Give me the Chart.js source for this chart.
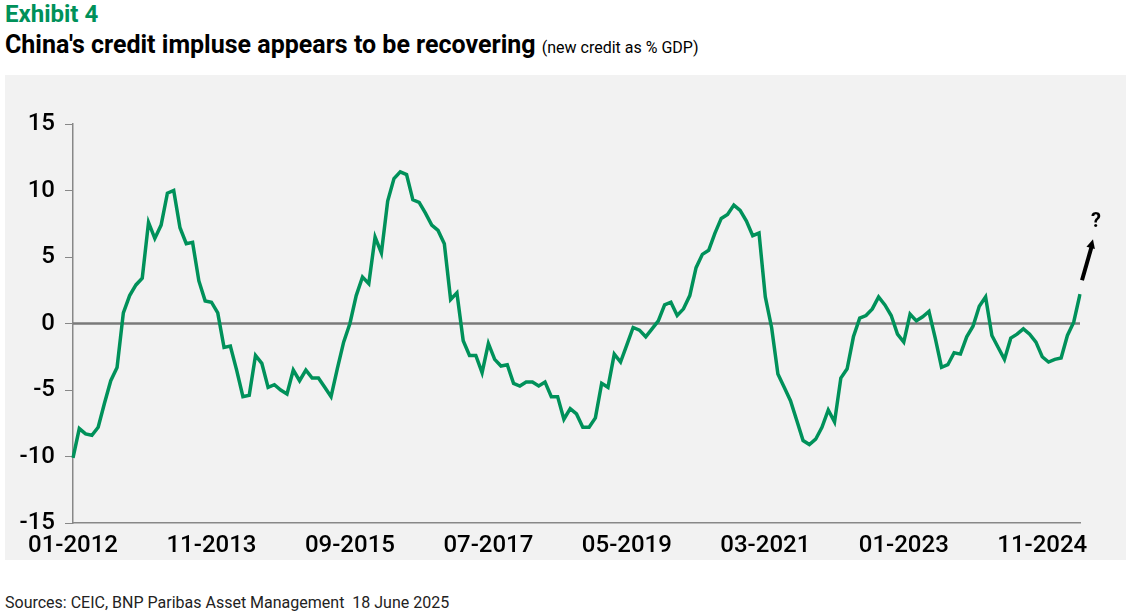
<!DOCTYPE html>
<html>
<head>
<meta charset="utf-8">
<script src="https://cdn.jsdelivr.net/npm/chart.js@4"></script>
<style>
  body { margin: 0; width: 1126px; height: 615px; background: #fff; font-family: Roboto, sans-serif; position: relative; overflow: hidden; }
  #exh { position: absolute; left: 5px; top: 0px; font-size: 24px; font-weight: bold; color: #00915a; }
  #title { position: absolute; left: 5px; top: 30px; font-size: 25px; font-weight: bold; color: #000; }
  #title span { font-size: 16px; font-weight: normal; }
  #box { position: absolute; left: 5px; top: 75px; width: 1121px; height: 485px; background: #f2f2f2; }
  #src { position: absolute; left: 5px; top: 593px; font-size: 16px; color: #222; }
</style>
</head>
<body>
<div id="exh">Exhibit 4</div>
<div id="title">China's credit impluse appears to be recovering <span>(new credit as % GDP)</span></div>
<div id="box"><canvas id="c" width="1121" height="485"></canvas></div>
<div id="src">Sources: CEIC, BNP Paribas Asset Management&nbsp; 18 June 2025</div>
<script>
'use strict';

// monthly, 01-2012 .. 05-2025
const startYear = 2012;
const impulse = [
  -10.1,-7.9,-8.3,-8.4,-7.8,-6.0,-4.3,-3.3,0.8,2.1,2.9,3.4,7.6,6.4,7.4,9.8,10.0,7.2,6.0,6.1,3.2,1.7,1.6,0.8,
  -1.8,-1.7,-3.5,-5.5,-5.4,-2.4,-3.0,-4.8,-4.6,-5.0,-5.3,-3.5,-4.3,-3.5,-4.1,-4.1,-4.8,-5.5,-3.4,-1.4,0,2.1,3.5,3.0,
  6.5,5.3,9.2,10.9,11.4,11.2,9.3,9.1,8.3,7.4,7.0,6.0,1.8,2.3,-1.3,-2.4,-2.4,-3.7,-1.5,-2.7,-3.2,-3.1,-4.5,-4.7,
  -4.4,-4.4,-4.7,-4.4,-5.5,-5.5,-7.2,-6.4,-6.8,-7.8,-7.8,-7.1,-4.5,-4.8,-2.3,-2.9,-1.6,-0.3,-0.5,-1.0,-0.4,0.2,
  1.4,1.6,0.6,1.1,2.1,4.2,5.2,5.5,6.8,7.9,8.2,8.9,8.5,7.7,6.6,6.8,2.0,-0.3,-3.8,-4.8,-5.8,-7.3,-8.8,-9.1,
  -8.7,-7.8,-6.5,-7.4,-4.1,-3.4,-1.0,0.4,0.6,1.1,2.0,1.4,0.6,-0.8,-1.4,0.7,0.2,0.5,0.9,-1.1,-3.3,-3.1,-2.2,-2.3,
  -1.0,-0.2,1.3,2.0,-0.9,-1.8,-2.7,-1.1,-0.8,-0.4,-0.8,-1.4,-2.5,-2.9,-2.7,-2.6,-0.9,0.1,2.2
];
const tickEvery = 22;
const yTicks = [-15,-10,-5,0,5,10,15];

const labels = impulse.map((v, i) => {
  const m = i % 12 + 1, y = startYear + Math.floor(i / 12);
  return (m < 10 ? '0' + m : '' + m) + '-' + y;
});

const zeroAndArrow = {
  id: 'zeroAndArrow',
  beforeDatasetsDraw(chart) {
    const {ctx, chartArea, scales: {y}} = chart;
    const y0 = y.getPixelForValue(0);
    ctx.save();
    ctx.strokeStyle = '#7a7a7a';
    ctx.lineWidth = 2.5;
    ctx.beginPath();
    ctx.moveTo(chartArea.left, y0);
    ctx.lineTo(chartArea.right, y0);
    ctx.stroke();
    ctx.restore();
  },
  afterDatasetsDraw(chart) {
    const {ctx} = chart;
    const pt = chart.getDatasetMeta(0).data[impulse.length - 1];
    const x1 = pt.x + 2, y1 = pt.y - 14, x2 = pt.x + 13, y2 = pt.y - 55;
    ctx.save();
    ctx.strokeStyle = '#000';
    ctx.fillStyle = '#000';
    ctx.lineWidth = 4;
    ctx.beginPath();
    ctx.moveTo(x1, y1);
    ctx.lineTo(x2 - 1, y2 + 6);
    ctx.stroke();
    const a = Math.atan2(y2 - y1, x2 - x1);
    ctx.beginPath();
    ctx.moveTo(x2, y2);
    ctx.lineTo(x2 - 10 * Math.cos(a - 0.45), y2 - 10 * Math.sin(a - 0.45));
    ctx.lineTo(x2 - 10 * Math.cos(a + 0.45), y2 - 10 * Math.sin(a + 0.45));
    ctx.closePath();
    ctx.fill();
    ctx.font = 'bold 20px Roboto';
    ctx.textAlign = 'center';
    ctx.fillText('?', x2 + 3, y2 - 12);
    ctx.restore();
  }
};

new Chart(document.getElementById('c').getContext('2d'), {
  type: 'line',
  data: {
    labels: labels,
    datasets: [{
      data: impulse,
      borderColor: '#00915a',
      borderWidth: 3.5,
      pointRadius: 0,
      tension: 0
    }]
  },
  options: {
    responsive: false,
    animation: false,
    layout: { padding: { top: 49, right: 46, left: 0, bottom: 0 } },
    plugins: { legend: { display: false }, tooltip: { enabled: false } },
    scales: {
      x: {
        offset: false,
        grid: { display: false, drawTicks: true, tickLength: 8, color: '#888' },
        border: { color: '#888', width: 1.5 },
        afterFit(s) { s.height = 37; },
        ticks: {
          autoSkip: false, maxRotation: 0, color: '#000', padding: 1,
          font: { size: 24, family: 'Roboto', weight: '500' },
          callback(v, i) { return i % tickEvery === 0 ? labels[i] : null; }
        }
      },
      y: {
        min: -15, max: 15,
        afterBuildTicks(s) { s.ticks = yTicks.map(v => ({value: v})); },
        afterFit(s) { s.width = 68; },
        grid: { drawOnChartArea: false, tickLength: 8, color: '#888' },
        border: { color: '#888', width: 1.5 },
        ticks: { color: '#000', padding: 10, font: { size: 24, family: 'Roboto', weight: '500' } }
      }
    }
  },
  plugins: [zeroAndArrow]
});
</script>
</body>
</html>
